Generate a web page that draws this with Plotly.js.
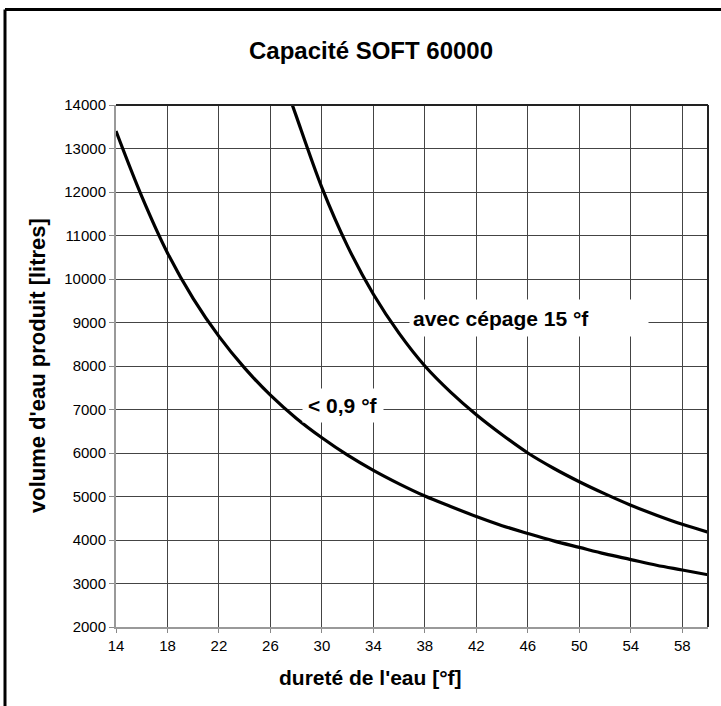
<!DOCTYPE html>
<html>
<head>
<meta charset="utf-8">
<script src="https://cdn.plot.ly/plotly-3.0.1.min.js"></script>
<style>html,body{margin:0;padding:0;background:#fff;}#chart{width:721px;height:706px;}</style>
</head>
<body>
<div id="chart"></div>
<script>
// Data
const lowerX = [14, 16, 18, 20, 22, 24, 26, 28, 30, 32, 34, 36, 38, 40, 42, 44, 46, 48, 50, 52, 54, 56, 58, 60];
const lowerY = [13400, 11900, 10600, 9550, 8680, 7950, 7330, 6800, 6350, 5950, 5600, 5290, 5010, 4770, 4540, 4330, 4150, 3980, 3830, 3680, 3550, 3420, 3310, 3200];
const upperX = [27.7, 28, 30, 32, 34, 36, 38, 40, 42, 44, 46, 48, 50, 52, 54, 56, 58, 60];
const upperY = [14000, 13750, 12100, 10750, 9650, 8750, 8000, 7400, 6880, 6420, 6000, 5650, 5340, 5060, 4800, 4570, 4360, 4180];
const lowerLabel = "< 0,9 °f";
const upperLabel = "avec cépage 15 °f";
const titleText = "Capacité SOFT 60000";
const xTitle = "dureté de l'eau [°f]";
const yTitle = "volume d'eau produit [litres]";

const FONT = "Liberation Sans, Arial, Helvetica, sans-serif";

const traces = [
  {x: lowerX, y: lowerY, mode: 'lines', line: {color: '#000', width: 3.2, shape: 'spline', smoothing: 1}, hoverinfo: 'skip', showlegend: false},
  {x: upperX, y: upperY, mode: 'lines', line: {color: '#000', width: 3.2, shape: 'spline', smoothing: 1}, hoverinfo: 'skip', showlegend: false}
];

const layout = {
  width: 721, height: 706,
  margin: {l: 116, r: 13, t: 105, b: 79},
  paper_bgcolor: '#fff', plot_bgcolor: '#fff',
  font: {family: FONT, color: '#000', size: 15},
  showlegend: false,
  title: {text: titleText, x: 0.5146, xref: 'container', xanchor: 'center', y: 0.929, yref: 'container', yanchor: 'middle', font: {family: FONT, size: 24, color: '#000', weight: 'bold'}},
  xaxis: {
    range: [14, 60], tick0: 14, dtick: 4, ticks: 'outside', ticklen: 4, tickcolor: '#888',
    showgrid: true, gridcolor: '#444', gridwidth: 1, zeroline: false,
    showline: true, linecolor: '#999', linewidth: 2,
    tickfont: {family: FONT, size: 15, color: '#000'}, fixedrange: true
  },
  yaxis: {
    range: [2000, 14000], tick0: 2000, dtick: 1000, tickformat: 'd', ticks: 'outside', ticklen: 5, tickcolor: '#888',
    showgrid: true, gridcolor: '#444', gridwidth: 1, zeroline: false,
    showline: true, linecolor: '#999', linewidth: 2,
    tickfont: {family: FONT, size: 15, color: '#000'}, fixedrange: true
  },
  annotations: [
    {text: '<b>' + xTitle + '</b>', xref: 'paper', yref: 'paper', x: 0.4307, y: -0.0958, xanchor: 'center', yanchor: 'middle', showarrow: false, font: {family: FONT, size: 21, color: '#000'}},
    {text: '<b>' + yTitle + '</b>', xref: 'paper', yref: 'paper', x: -0.1334, y: 0.5, xanchor: 'center', yanchor: 'middle', textangle: -90, showarrow: false, font: {family: FONT, size: 22, color: '#000'}},
    {text: '<b>' + lowerLabel + '</b>', xref: 'x', yref: 'y', x: 31.63, y: 7100, xanchor: 'center', yanchor: 'middle', showarrow: false, bgcolor: '#fff', borderpad: 5, font: {family: FONT, size: 21, color: '#000'}},
    {text: '<b>' + upperLabel + '</b>', xref: 'x', yref: 'y', x: 46.08, y: 9100, xanchor: 'center', yanchor: 'middle', showarrow: false, bgcolor: '#fff', width: 232, height: 30, align: 'left', valign: 'middle', borderpad: 3, font: {family: FONT, size: 21, color: '#000'}}
  ],
  shapes: [
    {type: 'line', xref: 'paper', yref: 'paper', x0: 0, x1: 1, y0: 1, y1: 1, line: {color: '#222', width: 2}},
    {type: 'line', xref: 'paper', yref: 'paper', x0: 1, x1: 1, y0: 0, y1: 1, line: {color: '#222', width: 2}},
    {type: 'line', xref: 'paper', yref: 'paper', x0: -0.1875, x1: 1.03, y0: 1.183, y1: 1.183, line: {color: '#000', width: 3}},
    {type: 'line', xref: 'paper', yref: 'paper', x0: -0.1875, x1: -0.1875, y0: -0.16, y1: 1.183, line: {color: '#000', width: 3}}
  ]
};

Plotly.newPlot('chart', traces, layout, {displayModeBar: false, staticPlot: true});
</script>
</body>
</html>
